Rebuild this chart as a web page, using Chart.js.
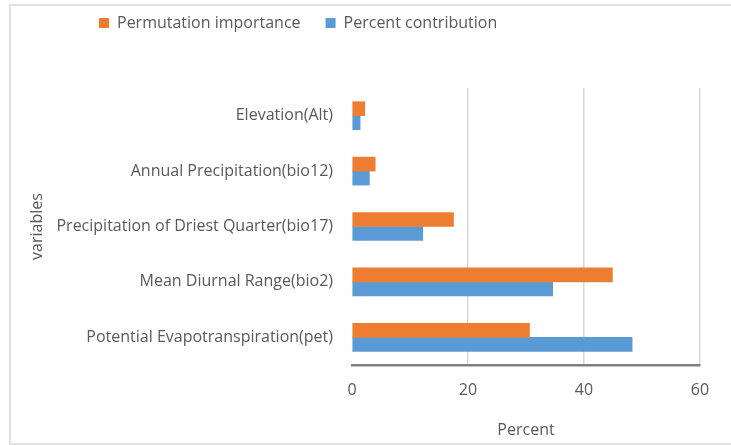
<!DOCTYPE html>
<html>
<head>
<meta charset="utf-8">
<script src="https://cdn.jsdelivr.net/npm/chart.js@4.4.1/dist/chart.umd.min.js"></script>
<style>
  html, body { margin: 0; padding: 0; background: #ffffff; }
  #wrap { position: relative; width: 731px; height: 445px; overflow: hidden; }
  #frame { position: absolute; left: 9px; top: 4px; width: 800px; height: 437px; border: 2px solid #e2e2e2; border-right: none; }
  #chart { position: absolute; left: 0; top: 0; }
</style>
</head>
<body>
<div id="wrap">
  <div id="frame"></div>
  <canvas id="chart" width="731" height="445"></canvas>
</div>
<script>
// Variables in the order they are listed from top to bottom
const variables = [
  'Elevation(Alt)',
  'Annual Precipitation(bio12)',
  'Precipitation of Driest Quarter(bio17)',
  'Mean Diurnal Range(bio2)',
  'Potential Evapotranspiration(pet)'
];
const permutationImportance = [2.2, 4.0, 17.5, 44.9, 30.6];
const percentContribution = [1.4, 3.0, 12.2, 34.6, 48.3];
const percentTicks = [0, 20, 40, 60];

const textColor = '#595959';
const fontFamily = "'Open Sans', 'Noto Sans', sans-serif";

// Fixed legend band height, legend shifted right and up inside it
const legendPlacement = {
  id: 'legendPlacement',
  beforeInit(chart) {
    const fit = chart.legend.fit;
    chart.legend.fit = function () {
      fit.call(this);
      this.height = 83;
    };
  },
  afterLayout(chart) {
    chart.legend.left = 74;
    chart.legend.top = -10;
  }
};

new Chart(document.getElementById('chart'), {
  type: 'bar',
  data: {
    labels: variables,
    datasets: [
      {
        label: 'Permutation importance',
        data: permutationImportance,
        backgroundColor: '#ED7D31',
        barThickness: 14
      },
      {
        label: 'Percent contribution',
        data: percentContribution,
        backgroundColor: '#5B9BD5',
        barThickness: 14
      }
    ]
  },
  options: {
    indexAxis: 'y',
    responsive: false,
    animation: false,
    layout: { padding: { top: 5, right: 31, bottom: 0, left: 0 } },
    plugins: {
      legend: {
        position: 'top',
        align: 'start',
        labels: {
          boxWidth: 10,
          boxHeight: 10,
          padding: 25,
          color: textColor,
          font: { family: fontFamily, size: 16 }
        }
      },
      tooltip: { enabled: false }
    },
    scales: {
      x: {
        min: 0,
        max: 60,
        afterFit(scale) { scale.height = 80; },
        afterBuildTicks(scale) {
          scale.ticks = percentTicks.map(v => ({ value: v }));
        },
        ticks: {
          color: textColor,
          padding: 16,
          font: { family: fontFamily, size: 16 }
        },
        grid: {
          drawTicks: false,
          color: ctx => (ctx.tick && ctx.tick.value === 0 ? 'rgba(0,0,0,0)' : '#d9d9d9'),
          lineWidth: 1.5
        },
        border: { color: '#7f7f7f', width: 2.5 },
        title: {
          display: true,
          text: 'Percent',
          color: textColor,
          padding: { top: 0, bottom: 5 },
          font: { family: fontFamily, size: 16 }
        }
      },
      y: {
        afterFit(scale) { scale.width = 352; },
        ticks: {
          color: textColor,
          padding: 19,
          font: { family: fontFamily, size: 16 }
        },
        grid: { display: false, drawTicks: false },
        border: { display: false },
        title: {
          display: true,
          text: 'variables',
          color: textColor,
          padding: { top: 28, bottom: 0 },
          font: { family: fontFamily, size: 16 }
        }
      }
    }
  },
  plugins: [legendPlacement]
});
</script>
</body>
</html>
